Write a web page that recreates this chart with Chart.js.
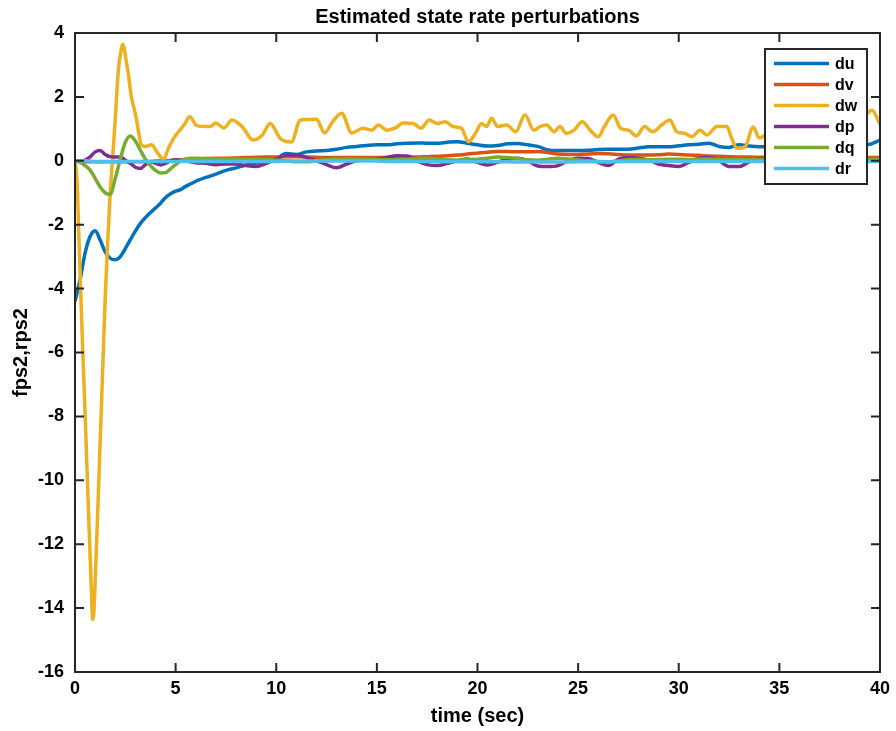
<!DOCTYPE html>
<html>
<head>
<meta charset="utf-8">
<title>Estimated state rate perturbations</title>
<script src="https://cdn.jsdelivr.net/npm/chart.js@4.4.0/dist/chart.umd.min.js"></script>
<style>
  html, body { margin: 0; padding: 0; background: #fff; }
</style>
</head>
<body>
<canvas id="chart" width="896" height="731"></canvas>
<script>
// time grid (sec) shared by du, dv, dp, dq, dr:
const tGrid = [0,0.25,0.5,0.75,1,1.25,1.5,1.75,2,2.25,2.5,2.75,3,3.25,3.5,3.75,4,4.25,4.5,4.75,5,5.25,5.5,5.75,6,
  6.5,7,7.5,8,8.5,9,9.5,10,
  10.5,11,11.5,12,12.5,13,13.5,14,14.5,15,
  15.5,16,16.5,17,17.5,18,18.5,19,19.5,20,
  20.5,21,21.5,22,22.5,23,23.5,24,24.5,25,
  25.5,26,26.5,27,27.5,28,28.5,29,29.5,30,
  30.5,31,31.5,32,32.5,33,33.5,34,34.5,35,
  35.5,36,36.5,37,37.5,38,38.5,39,39.5,40];

const du = [-4.4,-3.73,-2.89,-2.37,-2.19,-2.48,-2.85,-3.05,-3.1,-3.0,-2.75,-2.47,-2.2,-1.96,-1.78,-1.62,-1.48,-1.33,-1.15,-1.03,-0.95,-0.9,-0.8,-0.72,-0.64,
  -0.52,-0.42,-0.3,-0.22,-0.13,-0.07,-0.03,0.06,
  0.23,0.2,0.28,0.31,0.32,0.36,0.42,0.45,0.48,0.5,
  0.5,0.53,0.55,0.56,0.55,0.55,0.58,0.6,0.55,0.5,
  0.46,0.48,0.53,0.54,0.5,0.45,0.34,0.32,0.32,0.32,
  0.33,0.35,0.36,0.36,0.36,0.4,0.44,0.44,0.44,0.47,
  0.5,0.52,0.55,0.45,0.42,0.5,0.46,0.44,0.45,0.47,
  0.48,0.5,0.5,0.48,0.47,0.48,0.5,0.5,0.52,0.65];

const dv = [0,-0.02,-0.03,-0.03,-0.03,-0.03,-0.03,-0.03,-0.03,-0.03,-0.03,-0.03,-0.03,-0.03,-0.02,-0.02,-0.01,0,0,0.01,0.02,0.03,0.04,0.05,0.06,
  0.07,0.08,0.08,0.09,0.1,0.11,0.12,0.12,
  0.13,0.13,0.12,0.11,0.1,0.1,0.1,0.1,0.1,0.1,
  0.11,0.11,0.12,0.12,0.13,0.14,0.16,0.18,0.21,0.24,
  0.27,0.29,0.29,0.28,0.28,0.29,0.26,0.21,0.2,0.2,
  0.21,0.23,0.22,0.2,0.18,0.18,0.18,0.19,0.21,0.2,
  0.18,0.17,0.15,0.14,0.13,0.12,0.12,0.11,0.11,0.1,
  0.1,0.1,0.1,0.1,0.1,0.1,0.1,0.1,0.1,0.1];

const dp = [0,0,0.02,0.12,0.28,0.32,0.2,0.13,0.12,0.12,0.02,-0.08,-0.2,-0.24,-0.12,-0.03,-0.08,-0.13,-0.08,0,0.03,0.02,0,-0.03,-0.06,
  -0.08,-0.12,-0.1,-0.1,-0.15,-0.18,-0.08,0.05,
  0.18,0.18,0.1,0,-0.12,-0.22,-0.1,0,0.03,0.05,
  0.1,0.16,0.15,0,-0.12,-0.15,-0.08,0,0.06,-0.05,
  -0.13,-0.04,0.04,0.08,0,-0.16,-0.18,-0.15,0,0.08,
  0.07,-0.05,-0.15,0.05,0.1,0.08,0.03,-0.1,-0.15,-0.18,
  -0.05,0.08,0.1,0,-0.18,-0.18,-0.03,0.06,0.05,0,
  -0.05,-0.08,-0.03,0.03,0.05,0.02,-0.03,-0.02,0,0];

const dq = [0,-0.05,-0.15,-0.29,-0.55,-0.82,-1.0,-1.05,-0.55,0.05,0.58,0.78,0.62,0.33,0.05,-0.15,-0.3,-0.38,-0.37,-0.25,-0.12,0,0.06,0.08,0.08,
  0.07,0.06,0.05,0.05,0.05,0.05,0.04,0.02,
  0,-0.03,-0.03,0,0.03,0.05,0.06,0.05,0.05,0.04,
  0.03,0.04,0.05,0.06,0.08,0.05,0.03,0.02,0.04,0.05,
  0.08,0.12,0.1,0.07,0.03,0.02,0.05,0.08,0.06,0.03,
  0,-0.02,-0.03,0,0.03,0.04,0.03,0.04,0.05,0.05,
  0.04,0.05,0.06,0.04,0.03,0.03,0.03,0.04,0.04,0.04,
  0.04,0.04,0.04,0.04,0.04,0.04,0.04,0.04,0.04,0.04];

const dr = [0,0,0,-0.01,-0.02,-0.02,-0.02,-0.02,-0.02,-0.02,-0.02,-0.02,-0.02,-0.02,-0.02,-0.02,-0.02,-0.02,-0.02,-0.02,-0.02,-0.02,-0.02,-0.02,-0.02,
  -0.02,-0.02,-0.02,-0.02,-0.02,-0.02,-0.02,-0.02,
  -0.01,-0.01,-0.01,-0.01,-0.01,-0.01,-0.01,-0.01,-0.01,-0.01,
  -0.02,-0.02,-0.02,-0.02,-0.02,-0.03,-0.03,-0.03,-0.03,-0.03,
  -0.03,-0.03,-0.03,-0.04,-0.04,-0.04,-0.04,-0.04,-0.04,-0.03,
  -0.03,-0.03,-0.03,-0.03,-0.02,-0.02,-0.02,-0.02,-0.02,-0.02,
  -0.02,-0.02,-0.02,-0.02,-0.02,-0.02,-0.02,-0.02,-0.02,-0.02,
  -0.02,-0.02,-0.02,-0.02,-0.02,-0.02,-0.02,-0.02,-0.02,-0.02];

// dw has its own (denser early) time points:
const dwTime = [0,0.1,0.2,0.3,0.4,0.5,0.6,0.7,0.8,0.88,
  0.95,1.0,1.1,1.2,1.3,1.4,1.5,1.62,1.74,1.87,
  2.0,2.15,2.3,2.37,2.45,2.55,2.63,2.8,2.95,3.06,
  3.2,3.3,3.5,3.8,4.1,4.4,4.65,4.9,5.2,5.45,
  5.7,6.05,6.7,7.0,7.4,7.8,8.3,8.85,9.3,9.7,
  10.2,10.75,11.2,12.0,12.4,12.8,13.25,13.75,14.3,14.75,
  15.07,15.5,15.9,16.3,16.8,17.2,17.6,18.0,18.4,18.8,
  19.2,19.55,19.9,20.2,20.45,20.7,21.0,21.45,21.9,22.36,
  22.8,23.1,23.44,23.8,24.1,24.4,24.8,25.2,25.6,26.0,
  26.3,26.75,27.1,27.5,27.9,28.3,28.7,29.15,29.56,29.9,
  30.3,30.65,31.05,31.4,31.9,32.4,32.6,32.9,33.3,33.7,
  34.0,34.5,35.2,36.0,36.8,37.5,38.2,38.8,39.3,39.6,
  40];
const dw = [0,-0.6,-2.5,-4.4,-6.2,-7.9,-9.7,-11.5,-13.2,-14.35,
  -14.0,-13.2,-11.5,-9.7,-7.9,-6.1,-4.3,-2.6,-1.1,0.1,
  1.3,2.8,3.5,3.65,3.5,3.1,2.8,2.0,1.6,1.28,
  0.75,0.5,0.45,0.5,0.25,0.05,0.4,0.7,0.95,1.15,
  1.38,1.1,1.07,1.18,1.03,1.28,1.07,0.65,0.8,1.17,
  0.7,0.59,1.28,1.3,0.87,1.22,1.49,0.87,1.02,0.96,
  1.12,0.96,1.02,1.18,1.17,1.02,1.28,1.17,1.22,1.07,
  1.02,0.6,0.86,1.17,1.07,1.33,1.07,1.12,0.91,1.43,
  0.96,1.07,1.12,0.91,1.07,0.86,0.96,1.22,0.96,0.75,
  1.07,1.43,1.02,0.96,0.78,1.07,0.91,1.12,1.28,0.91,
  0.86,0.75,0.96,0.81,1.07,1.07,0.75,0.39,0.44,1.06,
  0.71,0.9,1.1,0.9,1.2,1.0,1.3,1.2,1.45,1.58,
  1.15];

const seriesNames = ['du', 'dv', 'dw', 'dp', 'dq', 'dr'];
const seriesColors = ['#0072BD', '#D95319', '#EDB120', '#7E2F8E', '#77AC30', '#4DBEEE'];
const chartTitle = 'Estimated state rate perturbations';

const axisColor = '#262626';
const fontFamily = "'Liberation Sans', Arial, Helvetica, sans-serif";

function pairs(times, values) {
  return times.map((t, i) => ({ x: t, y: values[i] }));
}

const seriesData = [
  pairs(tGrid, du),
  pairs(tGrid, dv),
  pairs(dwTime, dw),
  pairs(tGrid, dp),
  pairs(tGrid, dq),
  pairs(tGrid, dr)
];

// MATLAB draws later lines on top, so give them a lower order:
const datasets = seriesNames.map((name, i) => ({
  label: name,
  data: seriesData[i],
  borderColor: seriesColors[i],
  backgroundColor: seriesColors[i],
  borderWidth: 3.5,
  pointRadius: 0,
  cubicInterpolationMode: 'monotone',
  order: seriesNames.length - i
}));

// axes box, inward ticks, title over the plot and the boxed legend:
const matlabAxes = {
  id: 'matlabAxes',
  afterDatasetsDraw(chart) {
    const { ctx, chartArea: a, scales } = chart;
    const tickLen = 9;
    ctx.save();
    ctx.strokeStyle = axisColor;
    ctx.lineWidth = 2;
    ctx.beginPath();
    scales.x.ticks.forEach(t => {
      const px = scales.x.getPixelForValue(t.value);
      ctx.moveTo(px, a.bottom); ctx.lineTo(px, a.bottom - tickLen);
      ctx.moveTo(px, a.top); ctx.lineTo(px, a.top + tickLen);
    });
    scales.y.ticks.forEach(t => {
      const py = scales.y.getPixelForValue(t.value);
      ctx.moveTo(a.left, py); ctx.lineTo(a.left + tickLen, py);
      ctx.moveTo(a.right, py); ctx.lineTo(a.right - tickLen, py);
    });
    ctx.stroke();
    ctx.strokeRect(a.left, a.top, a.right - a.left, a.bottom - a.top);

    // title centred over the axes, like MATLAB:
    ctx.fillStyle = '#000';
    ctx.font = 'bold 20px ' + fontFamily;
    ctx.textAlign = 'center';
    ctx.textBaseline = 'middle';
    ctx.fillText(chartTitle, (a.left + a.right) / 2, a.top - 16);

    // legend box in the upper right corner
    const boxW = 102, boxH = 135;
    const bx = a.right - 13 - boxW, by = a.top + 16;
    ctx.fillStyle = '#fff';
    ctx.fillRect(bx, by, boxW, boxH);
    ctx.strokeRect(bx, by, boxW, boxH);
    ctx.font = 'bold 16px ' + fontFamily;
    ctx.textBaseline = 'middle';
    ctx.textAlign = 'left';
    chart.data.datasets.forEach((ds, i) => {
      const ry = by + 14.5 + i * 21;
      ctx.strokeStyle = ds.borderColor;
      ctx.lineWidth = 3.5;
      ctx.beginPath();
      ctx.moveTo(bx + 9, ry);
      ctx.lineTo(bx + 64, ry);
      ctx.stroke();
      ctx.fillStyle = '#000';
      ctx.fillText(ds.label, bx + 70, ry + 1);
    });
    ctx.restore();
  }
};

new Chart(document.getElementById('chart'), {
  type: 'line',
  data: { datasets: datasets },
  options: {
    responsive: false,
    animation: false,
    layout: { padding: { left: 0, right: 16, top: 33, bottom: 0 } },
    plugins: {
      legend: { display: false },
      tooltip: { enabled: false },
      title: { display: false }
    },
    scales: {
      x: {
        type: 'linear',
        min: 0,
        max: 40,
        grid: { display: false, drawTicks: false },
        border: { display: false },
        ticks: {
          stepSize: 5,
          color: '#000',
          padding: 6,
          maxRotation: 0,
          font: { family: fontFamily, size: 18, weight: 'bold' }
        },
        title: {
          display: true,
          text: 'time (sec)',
          color: '#000',
          font: { family: fontFamily, size: 20, weight: 'bold' },
          padding: { top: 0, bottom: 3 }
        },
        afterFit: s => { s.height = 59; }
      },
      y: {
        min: -16,
        max: 4,
        grid: { display: false, drawTicks: false },
        border: { display: false },
        ticks: {
          stepSize: 2,
          color: '#000',
          padding: 11,
          font: { family: fontFamily, size: 18, weight: 'bold' }
        },
        title: {
          display: true,
          text: 'fps2,rps2',
          color: '#000',
          font: { family: fontFamily, size: 20, weight: 'bold' },
          padding: { top: 9, bottom: 0 }
        },
        afterFit: s => { s.width = 75; }
      }
    }
  },
  plugins: [matlabAxes]
});
</script>
</body>
</html>
